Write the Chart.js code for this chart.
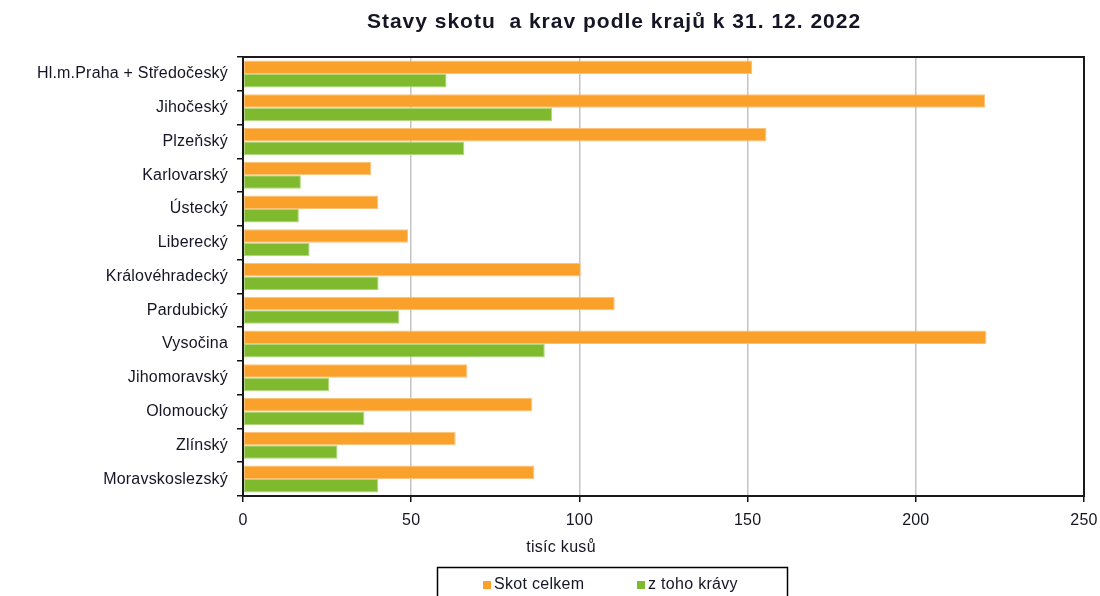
<!DOCTYPE html>
<html>
<head>
<meta charset="utf-8">
<script src="https://cdn.jsdelivr.net/npm/chart.js@4/dist/chart.umd.min.js"></script>
<style>
html,body{margin:0;padding:0;background:#fff;}
canvas{display:block;}
</style>
</head>
<body>
<canvas id="c" width="1100" height="596"></canvas>
<script>
const chartTitle = "Stavy skotu  a krav podle krajů k 31. 12. 2022";
const axisTitle = "tisíc kusů";
const categories = [
  "Hl.m.Praha + Středočeský", "Jihočeský", "Plzeňský", "Karlovarský", "Ústecký",
  "Liberecký", "Královéhradecký", "Pardubický", "Vysočina", "Jihomoravský",
  "Olomoucký", "Zlínský", "Moravskoslezský"
];
const seriesNames = ["Skot celkem", "z toho krávy"];
const skotCelkem = [151.4, 220.6, 155.6, 38.1, 40.2, 49.1, 100.4, 110.5, 221.0, 66.7, 86.0, 63.2, 86.6];
const kravy = [60.5, 91.9, 65.8, 17.2, 16.6, 19.8, 40.3, 46.4, 89.7, 25.6, 36.1, 28.1, 40.2];
const xTicks = [0, 50, 100, 150, 200, 250];

const ORANGE = "#F9A12A", GREEN = "#7FBA2E";
const TEXT = "#151525";
const FONT = "'Liberation Sans', Arial, sans-serif";

const decor = {
  id: "decor",
  beforeDraw(chart) {
    if ('letterSpacing' in chart.ctx) chart.ctx.letterSpacing = "0.2px";
  },
  afterDraw(chart) {
    const ctx = chart.ctx, a = chart.chartArea;
    ctx.save();
    // frame
    ctx.strokeStyle = "#1a1a1a";
    ctx.lineWidth = 2;
    ctx.strokeRect(a.left, a.top, a.right - a.left, a.bottom - a.top);
    // title
    ctx.fillStyle = TEXT;
    ctx.textAlign = "center";
    ctx.textBaseline = "middle";
    ctx.font = "bold 21px " + FONT;
    if ('letterSpacing' in ctx) ctx.letterSpacing = "1px";
    ctx.fillText(chartTitle, 614, 22);
    if ('letterSpacing' in ctx) ctx.letterSpacing = "0.3px";
    // axis title
    ctx.font = "16px " + FONT;
    ctx.fillText(axisTitle, 561, 548);
    // legend
    ctx.strokeStyle = "#000";
    ctx.lineWidth = 1.5;
    ctx.strokeRect(437.5, 567.5, 350, 40);
    const items = [[seriesNames[0], ORANGE, 483], [seriesNames[1], GREEN, 637]];
    ctx.textAlign = "left";
    items.forEach(([t, c, x]) => {
      ctx.fillStyle = c;
      ctx.fillRect(x, 581, 8, 8);
      ctx.fillStyle = TEXT;
      ctx.fillText(t, x + 11, 585);
    });
    ctx.restore();
  }
};

new Chart(document.getElementById("c"), {
  type: "bar",
  data: {
    labels: categories,
    datasets: [
      { label: seriesNames[0], data: skotCelkem, backgroundColor: ORANGE, borderColor: "#FBC27A", borderWidth: 1, borderSkipped: false },
      { label: seriesNames[1], data: kravy, backgroundColor: GREEN, borderColor: "#AED77E", borderWidth: 1, borderSkipped: false }
    ]
  },
  options: {
    indexAxis: "y",
    responsive: false,
    animation: false,
    devicePixelRatio: 1,
    layout: { padding: { top: 57, right: 16, left: 0, bottom: 0 } },
    datasets: { bar: { categoryPercentage: 0.8, barPercentage: 1.0 } },
    plugins: { legend: { display: false }, title: { display: false }, tooltip: { enabled: false } },
    scales: {
      x: {
        min: xTicks[0], max: xTicks[xTicks.length - 1],
        afterBuildTicks(scale) { scale.ticks = xTicks.map(v => ({ value: v })); },
        afterFit(scale) { scale.height = 100; scale.paddingLeft = 0; scale.paddingRight = 0; },
        ticks: { color: TEXT, font: { family: FONT, size: 16 }, padding: 9, maxRotation: 0 },
        grid: { color: "#c4c4c4", lineWidth: 1.5, tickColor: "#111", tickLength: 6 },
        border: { display: false }
      },
      y: {
        afterFit(scale) { scale.width = 243; scale.paddingTop = 0; scale.paddingBottom = 0; },
        ticks: { color: TEXT, font: { family: FONT, size: 16 }, padding: 9, autoSkip: false },
        grid: { offset: true, drawOnChartArea: false, tickColor: "#111", tickLength: 6, lineWidth: 1.5 },
        border: { display: false }
      }
    }
  },
  plugins: [decor]
});
</script>
</body>
</html>
